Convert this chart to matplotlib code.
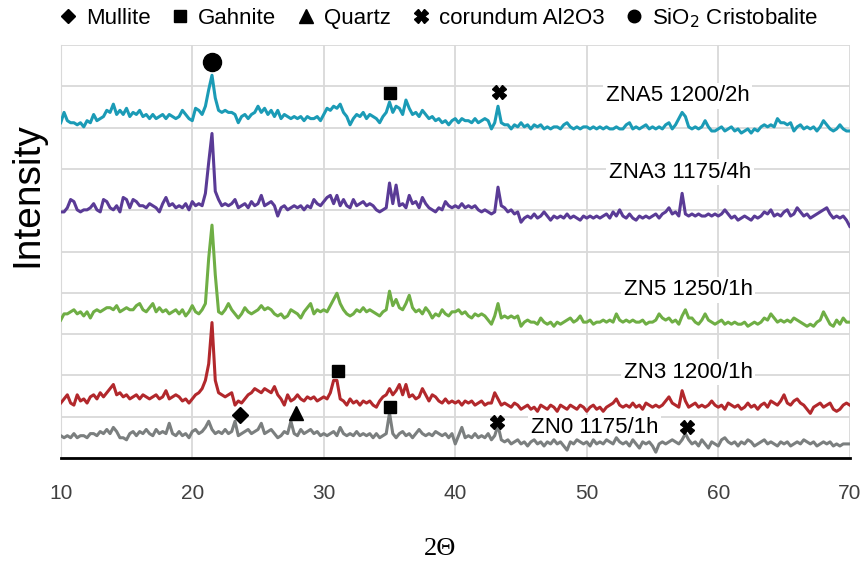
import numpy as np
import matplotlib
matplotlib.use('Agg')
import matplotlib.pyplot as plt
from matplotlib.lines import Line2D

# 2theta sampling (deg), 0.25 step from 10 to 70
two_theta = np.arange(10, 70.001, 0.25)

# intensities (arbitrary counts), one row = 1 degree
zna5 = [6, 11, 7, 6,  6, 5, 6, 4,  7, 6, 10, 7,  8, 9, 12, 11,  15, 10, 12, 10,
        13, 9, 11, 10,  12, 9, 10, 8,  10, 8, 9, 10,  8, 10, 9, 8,  9, 12, 10, 8,
        7, 13, 12, 10,  14, 22, 29, 18,  12, 11, 12, 11,  11, 10, 6, 9,  10, 8, 10, 11,
        14, 11, 13, 10,  12, 9, 12, 8,  10, 9, 8, 9,  8, 9, 7, 9,  8, 8, 9, 7,
        10, 13, 12, 14,  13, 15, 11, 9,  5, 8, 10, 9,  11, 8, 10, 9,  8, 6, 9, 11,
        16, 11, 14, 13,  10, 17, 13, 10,  11, 9, 12, 10,  8, 9, 7, 8,  6, 7, 5, 7,
        8, 6, 8, 7,  7, 6, 8, 6,  7, 8, 7, 3,  6, 14, 6, 5,  5, 3, 5, 4,
        6, 4, 5, 3,  5, 4, 5, 3,  4, 3, 4, 4,  3, 5, 6, 4,  3, 4, 3, 4,
        4, 3, 4, 3,  4, 3, 4, 3,  3, 4, 3, 3,  5, 6, 3, 4,  3, 4, 5, 3,
        4, 3, 4, 3,  5, 6, 3, 5,  8, 11, 9, 4,  3, 4, 3, 4,  7, 4, 2, 2,
        3, 4, 2, 3,  4, 2, 3, 1,  2, 3, 1, 3,  2, 4, 5, 4,  5, 4, 8, 6,
        6, 5, 6, 2,  4, 5, 3, 4,  3, 4, 2, 4,  7, 5, 3, 2,  3, 5, 3, 2,  2]

zna3 = [4, 4, 6, 10,  9, 5, 4, 5,  5, 6, 8, 5,  4, 10, 9, 6,  5, 7, 4, 11,
        10, 6, 10, 9,  7, 7, 6, 8,  7, 6, 4, 8,  11, 7, 8, 6,  7, 6, 8, 5,
        9, 7, 8, 7,  13, 28, 42, 14,  10, 7, 8, 7,  8, 10, 6, 7,  8, 6, 9, 7,
        8, 12, 7, 8,  9, 7, 2, 6,  7, 5, 6, 7,  6, 7, 5, 7,  6, 10, 8, 7,
        9, 11, 12, 8,  12, 7, 10, 7,  6, 10, 7, 8,  9, 7, 8, 7,  5, 4, 5, 6,
        18, 8, 17, 7,  8, 6, 12, 8,  9, 6, 11, 8,  6, 5, 4, 6,  5, 9, 7, 6,
        7, 6, 8, 6,  7, 6, 7, 5,  4, 5, 4, 3,  4, 16, 7, 6,  4, 5, 3, 4,
        -1, 1, 2, 1,  3, 1, 2, 4,  2, 0, 2, 1,  2, 1, 3, 1,  2, 1, 0, 2,
        1, 2, 1, 2,  1, 2, 3, 1,  4, 2, 5, 2,  1, 3, 1, 0,  2, 1, 2, 1,
        2, 3, 1, 3,  4, 6, 3, 4,  2, 13, 3, 2,  3, 2, 3, 2,  2, 3, 2, 3,
        2, 3, 5, 3,  1, 2, 0, 1,  2, 1, 0, 2,  1, 2, 4, 3,  5, 2, 3, 2,
        4, 5, 2, 3,  6, 4, 2, 3,  1, 2, 3, 4,  5, 6, 3, 1,  2, 1, 2, 0,  -3]

zn5 = [0, 3, 3, 4,  5, 3, 4, 2,  4, 1, 4, 5,  4, 5, 6, 6,  5, 7, 4, 5,
       6, 5, 5, 7,  8, 5, 4, 6,  8, 4, 6, 4,  5, 3, 4, 5,  3, 5, 2, 4,
       7, 4, 3, 5,  8, 30, 46, 22,  4, 3, 5, 8,  5, 3, 1, 3,  6, 4, 3, 4,
       5, 7, 5, 6,  5, 3, 2, 3,  1, 2, 5, 4,  3, 1, 4, 6,  8, 3, 5, 4,
       5, 4, 7, 10,  13, 8, 5, 3,  2, 3, 5, 4,  6, 4, 5, 4,  3, 2, 4, 5,
       14, 7, 10, 6,  5, 8, 12, 6,  4, 5, 3, 6,  4, 1, 3, 2,  5, 3, 2, 4,
       4, 5, 3, 4,  2, 1, 3, 2,  3, 2, 0, -2,  2, 8, 1, 2,  1, 2, 1, 2,
       -3, -1, 0, -1,  -1, -2, 1, -1,  -2, -1, -3, -1,  -2, -1, 0, 1,  -1, 0, 2, -1,
       -1, 0, -2, -1,  -1, 0, -1, 0,  -1, 3, 0, -1,  0, -1, 0, -1,  -1, 0, -2, -1,
       -1, 0, 3, 1,  0, 1, -1, 0,  -2, 2, 5, 1,  1, -1, -2, 0,  3, 0, -1, -2,
       -1, 0, -2, -1,  -2, -1, -2, -2,  -1, -3, -2, -1,  -2, -1, 1, 0,  3, 1, -1, 0,
       -1, 0, -1, 1,  0, -1, -2, -3,  -2, -3, -1, 0,  4, 1, -2, -3,  0, -2, 1, -1,  -1]

zn3 = [1, 3, 5, 1,  0, 5, 2, 3,  1, 4, 5, 3,  6, 4, 6, 8,  10, 5, 6, 4,
       5, 3, 4, 5,  3, 5, 4, 3,  4, 5, 3, 4,  7, 3, 4, 5,  4, 2, 3, 1,
       3, 5, 6, 8,  12, 20, 40, 12,  6, 5, 4, 5,  6, 0, 2, 1,  3, 5, 6, 8,
       7, 6, 8, 7,  6, 9, 5, 3,  0, 5, 2, 3,  5, 3, 2, 4,  3, 4, 2, 3,
       4, 3, 6, 12,  12, 3, 2, 0,  3, 1, 2, 0,  2, 1, 2, 0,  -1, 2, 4, 5,
       8, 5, 7, 10,  5, 10, 4, 5,  3, 4, 8, 5,  2, 5, 4, 2,  1, 3, 1, 2,
       1, 2, 0, 2,  1, 2, 0, 1,  2, 0, 1, 1,  6, 3, 0, 1,  0, -1, 1, 0,
       -2, -1, 0, -2,  -1, -3, 0, -1,  -2, 0, -1, -3,  0, -1, -2, 0,  -1, -2, 0, -1,
       -3, -1, 0, -2,  -1, -3, -1, 0,  1, 3, 0, -1,  0, -1, 1, -1,  0, -2, 1, 0,
       -1, 0, -1, 0,  2, 4, 1, 0,  -1, 7, 2, -1,  0, 1, -1, 0,  -1, 0, 2, 0,
       -1, 0, -2, 1,  0, -1, 0, -2,  -1, 1, -1, 0,  -2, 0, 1, -1,  2, 1, 0, 2,
       5, 1, 0, 2,  3, 1, 0, -2,  -4, -1, 0, 1,  -1, 0, 1, -2,  -3, -2, 0, 1,  0]

zn0 = [2, 1, 2, 1,  3, 1, 2, 2,  1, 3, 3, 2,  4, 3, 5, 3,  6, 4, 1, 1,
       0, 3, 4, 2,  4, 3, 5, 3,  2, 5, 3, 4,  3, 8, 3, 2,  4, 2, 3, 1,
       4, 5, 3, 4,  6, 9, 5, 3,  4, 3, 5, 3,  4, 9, 2, 3,  4, 5, 3, 4,
       5, 8, 3, 4,  5, 3, 1, 2,  4, 3, 9, 3,  2, 5, 3, 4,  5, 3, 4, 2,
       3, 2, 3, 4,  2, 6, 3, 2,  3, 2, 4, 2,  3, 2, 3, 1,  3, 1, 2, 3,
       13, 3, 1, 3,  4, 2, 3, 1,  3, 5, 3, 2,  3, 2, 4, 3,  2, 3, 1, 3,
       -2, 2, 6, 1,  2, 1, 3, 1,  2, 1, 3, 0,  2, 7, 0, -1,  0, -2, -1, 0,
       -2, -1, -3, -1,  0, -2, -1, -3,  -1, -2, 0, -2,  -1, -3, -5, -1,  -2, 0, -1, -2,
       -1, -3, 0, -2,  -1, -2, 0, -1,  -2, 1, -1, -2,  -1, -3, 0, -2,  -4, -1, -2, -1,
       -3, -6, -2, -1,  -2, -1, 0, -1,  -2, 0, 3, 0,  -2, -1, -3, 0,  -2, -4, -1, -2,
       -3, 0, 1, -1,  -2, -1, -3, -1,  -2, 0, -1, -3,  -2, -1, 0, -2,  -1, -2, -3, -1,
       -2, -1, -3, -2,  -1, -2, 0, -1,  -2, -1, -3, -2,  -1, -2, -1, -3,  -2, -3, -2, -2,  -2]

samples = ['ZNA5 1200/2h', 'ZNA3 1175/4h', 'ZN5 1250/1h', 'ZN3 1200/1h', 'ZN0 1175/1h']
patterns = [zna5, zna3, zn5, zn3, zn0]
offsets = [7.82, 5.76, 3.34, 1.28, 0.44]
colors = ['#1b9bb6', '#5a3b96', '#6fae45', '#b2282c', '#7b7f7f']
label_pos = [(56.9, 8.77), (57.1, 6.92), (57.7, 4.07), (57.7, 2.08), (50.6, 0.73)]

# phase markers: (2theta, height)
mullite = [(23.6, 1.04)]
gahnite = [(35.05, 8.84), (31.1, 2.1), (35.05, 1.23)]
quartz = [(27.9, 1.08)]
corundum = [(43.35, 8.87), (43.2, 0.88), (57.6, 0.76)]
cristobalite = [(21.5, 9.59)]

fig = plt.figure(figsize=(8.68, 5.64), dpi=100)
ax = fig.add_axes([0.070, 0.188, 0.909, 0.732])

for vals, off, c in zip(patterns, offsets, colors):
    y = off + np.array(vals) * 0.05
    ax.plot(two_theta, y, color=c, lw=2.2, zorder=3)

for (x, y), s in zip(label_pos, samples):
    ax.text(x, y, s, ha='center', va='center', fontsize=16, family='Liberation Sans',
            color='black', zorder=2,
            bbox=dict(facecolor='white', edgecolor='none', pad=2))

def put(points, m, size):
    xs = [p[0] for p in points]
    ys = [p[1] for p in points]
    ax.plot(xs, ys, ls='none', marker=m, ms=size, color='black', zorder=4)

put(mullite, 'D', 8)
put(gahnite, 's', 9)
put(quartz, '^', 10)
put(corundum, 'X', 10)
put(cristobalite, 'o', 13)

ax.set_xlim(10, 70)
ax.set_ylim(0, 10)
ax.set_xticks(range(10, 71, 10))
ax.set_yticks(range(0, 11))
ax.set_yticklabels([])
ax.grid(True, color='#d9d9d9', lw=1.3)
ax.set_axisbelow(True)
ax.tick_params(axis='both', length=0)
ax.tick_params(axis='x', pad=19, labelsize=15, labelcolor='#404040')
for lbl in ax.get_xticklabels():
    lbl.set_family('Liberation Sans')
for side in ['top', 'right']:
    ax.spines[side].set_visible(False)
ax.spines['left'].set_color('#d9d9d9')
ax.spines['bottom'].set_color('black')
ax.spines['bottom'].set_linewidth(2)

fig.text(0.031, 0.655, 'Intensity', rotation=90, ha='center', va='center',
         fontsize=28, family='Liberation Sans')
fig.text(0.507, 0.026, '2\u0398', ha='center', va='center', fontsize=19,
         family='Liberation Serif')

handles = [Line2D([], [], ls='none', marker='D', ms=7, color='black'),
           Line2D([], [], ls='none', marker='s', ms=9, color='black'),
           Line2D([], [], ls='none', marker='^', ms=10, color='black'),
           Line2D([], [], ls='none', marker='X', ms=10, color='black'),
           Line2D([], [], ls='none', marker='o', ms=9, color='black')]
names = ['Mullite', 'Gahnite', 'Quartz', 'corundum Al2O3', 'SiO$_2$ Cristobalite']
fig.legend(handles, names, loc='center', bbox_to_anchor=(0.505, 0.968), ncol=5,
           frameon=False, prop={'family': 'Liberation Sans', 'size': 16},
           handletextpad=0.35, columnspacing=0.9, handlelength=0.9)

fig.savefig('out.png', dpi=100)
